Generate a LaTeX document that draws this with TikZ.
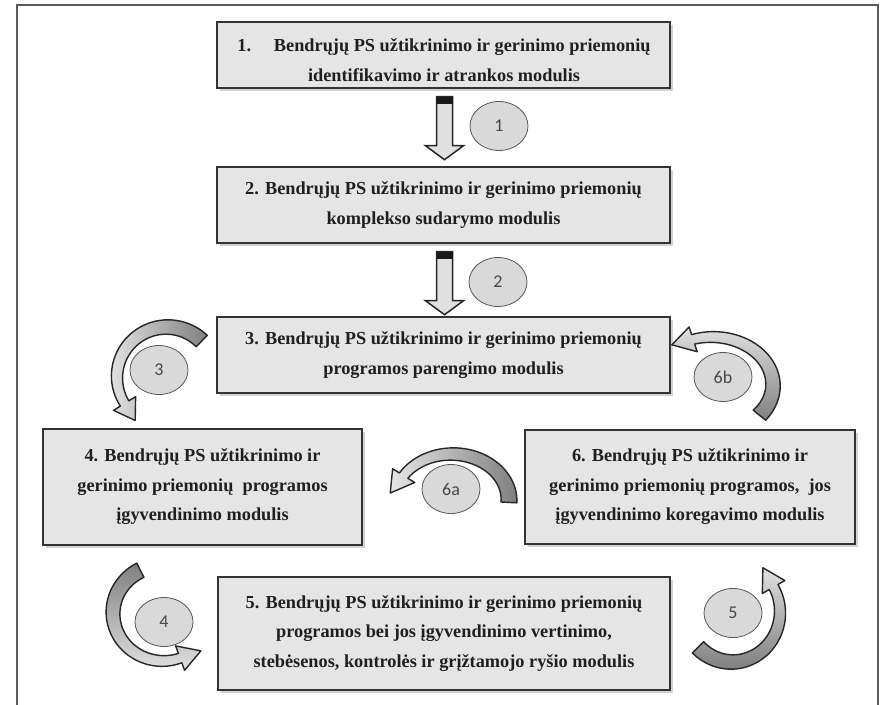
\documentclass[tikz,border=0pt]{standalone}
\usepackage{fontspec}
\setmainfont{Liberation Serif}
\newfontfamily\labfont{Carlito}
\usetikzlibrary{shadows,calc,shapes.geometric}

\tikzset{
  modbox/.style={draw=black!80, line width=1.4pt, fill=black!10,
    drop shadow={shadow xshift=2.5pt, shadow yshift=-2.5pt, opacity=0.35},
    align=center, inner sep=0pt, text=black!88,
    font=\fontsize{18.3}{29.5}\selectfont\bfseries},
  numell/.style={ellipse, draw=black!65, line width=0.8pt, fill=black!15,
    minimum width=58pt, minimum height=49pt, inner sep=0pt,
    text=black!72, font=\labfont\fontsize{18}{18}\selectfont},
  blkfill/.style={draw=black!85, line width=1.5pt, fill=black!12, line join=miter},
  curvearrow/.style={draw=black!85, line width=1.4pt, line join=round},
  frameline/.style={draw=black!65, line width=1.3pt}
}

% curved block arrow: cx cy rx ry a1(tail) a2(head base) L(head length) shading
\newcommand{\curvarr}[8]{%
  \pgfmathsetmacro{\cbx}{#1+(#3)*cos(#6)}%
  \pgfmathsetmacro{\cby}{#2-(#4)*sin(#6)}%
  \pgfmathsetmacro{\ctx}{-(#3)*sin(#6)}%
  \pgfmathsetmacro{\cty}{-(#4)*cos(#6)}%
  \pgfmathsetmacro{\cn}{sqrt((\ctx)^2+(\cty)^2)}%
  \pgfmathsetmacro{\tipx}{\cbx+(#7)*(\ctx)/\cn}%
  \pgfmathsetmacro{\tipy}{\cby+(#7)*(\cty)/\cn}%
  \path[curvearrow,#8]
    plot[domain=#5:#6,samples=40,variable=\t]
      ({#1+(#3+8-3*(\t-(#5))/((#6)-(#5)))*cos(\t)},{#2-(#4+8-3*(\t-(#5))/((#6)-(#5)))*sin(\t)})
    -- ({#1+(#3+13)*cos(#6)},{#2-(#4+13)*sin(#6)})
    -- (\tipx,\tipy)
    -- ({#1+(#3-13)*cos(#6)},{#2-(#4-13)*sin(#6)})
    -- plot[domain=#6:#5,samples=40,variable=\t]
      ({#1+(#3-8+3*(\t-(#5))/((#6)-(#5)))*cos(\t)},{#2-(#4-8+3*(\t-(#5))/((#6)-(#5)))*sin(\t)})
    -- cycle;
}

% straight block arrow from a top-centre coordinate
\newcommand{\blkarrow}[1]{%
  \path[blkfill] ($#1+(-8,0)$) -- ($#1+(8,0)$) -- ($#1+(8,49)$) -- ($#1+(19,49)$)
    -- ($#1+(0,63)$) -- ($#1+(-19,49)$) -- ($#1+(-8,49)$) -- cycle;
  \fill[black!90] ($#1+(-8,0)$) rectangle ($#1+(8,7)$);
}

\begin{document}
\begin{tikzpicture}[x=1pt,y=-1pt]
  \useasboundingbox (0,0) rectangle (882,704);
  \fill[white] (0,0) rectangle (882,704);
  % outer frame (open at the bottom)
  \draw[frameline] (17,710) -- (17,5) -- (878,5) -- (878,710);

  % modules
  \node[modbox, minimum width=453pt, minimum height=66pt] (b1) at (443.5,55) {};
  \node[align=center, text=black!88, font=\fontsize{18.3}{29.5}\selectfont\bfseries] (t1) at (444,60)
    {1.\quad\ Bendrųjų PS užtikrinimo ir gerinimo priemonių\\identifikavimo ir atrankos modulis};
  \node[modbox, minimum width=453pt, minimum height=76pt] (b2) at (443.5,205)
    {2. Bendrųjų PS užtikrinimo ir gerinimo priemonių\\komplekso sudarymo modulis};
  \node[modbox, minimum width=453pt, minimum height=76pt] (b3) at (443.5,355)
    {3. Bendrųjų PS užtikrinimo ir gerinimo priemonių\\programos parengimo modulis};
  \node[modbox, minimum width=319pt, minimum height=116pt] (b4) at (202.5,487)
    {4. Bendrųjų PS užtikrinimo ir\\gerinimo priemonių\ \ programos\\įgyvendinimo modulis};
  \node[modbox, minimum width=330pt, minimum height=114pt] (b6) at (690,487)
    {6. Bendrųjų PS užtikrinimo ir\\gerinimo priemonių programos,\ \ jos\\įgyvendinimo koregavimo modulis};
  \node[modbox, minimum width=452pt, minimum height=113pt] (b5) at (444,633.5)
    {5. Bendrųjų PS užtikrinimo ir gerinimo priemonių\\programos bei jos įgyvendinimo vertinimo,\\stebėsenos, kontrolės ir grįžtamojo ryšio modulis};

  % straight block arrows
  \coordinate (s1) at ($(b1.south)+(1,8)$);
  \coordinate (s2) at ($(b2.south)+(1,8)$);
  \blkarrow{(s1)}
  \blkarrow{(s2)}

  % curved block arrows
  \curvarr{167}{377}{50}{50}{46}{212}{20}{left color=black!12, right color=black!50}
  \curvarr{712}{385}{61}{48}{-39}{108}{22}{top color=black!12, bottom color=black!50}
  \curvarr{452}{500}{57}{46}{-3}{148}{22}{left color=black!10, right color=black!50}
  \curvarr{163}{613}{50}{48}{117}{290}{22}{top color=black!50, bottom color=black!12}
  \curvarr{732}{612}{48}{50}{-135}{30}{22}{top color=black!12, bottom color=black!50}

  % numbered ellipses
  \node[numell] (e1) at (499,126) {1};
  \node[numell] (e2) at (498,282) {2};
  \node[numell] (e3) at (159,370) {3};
  \node[numell] (e6b) at (723,377) {6b};
  \node[numell] (e6a) at (451,489) {6a};
  \node[numell] (e4) at (164,622) {4};
  \node[numell] (e5) at (733,613) {5};
\end{tikzpicture}
\end{document}
